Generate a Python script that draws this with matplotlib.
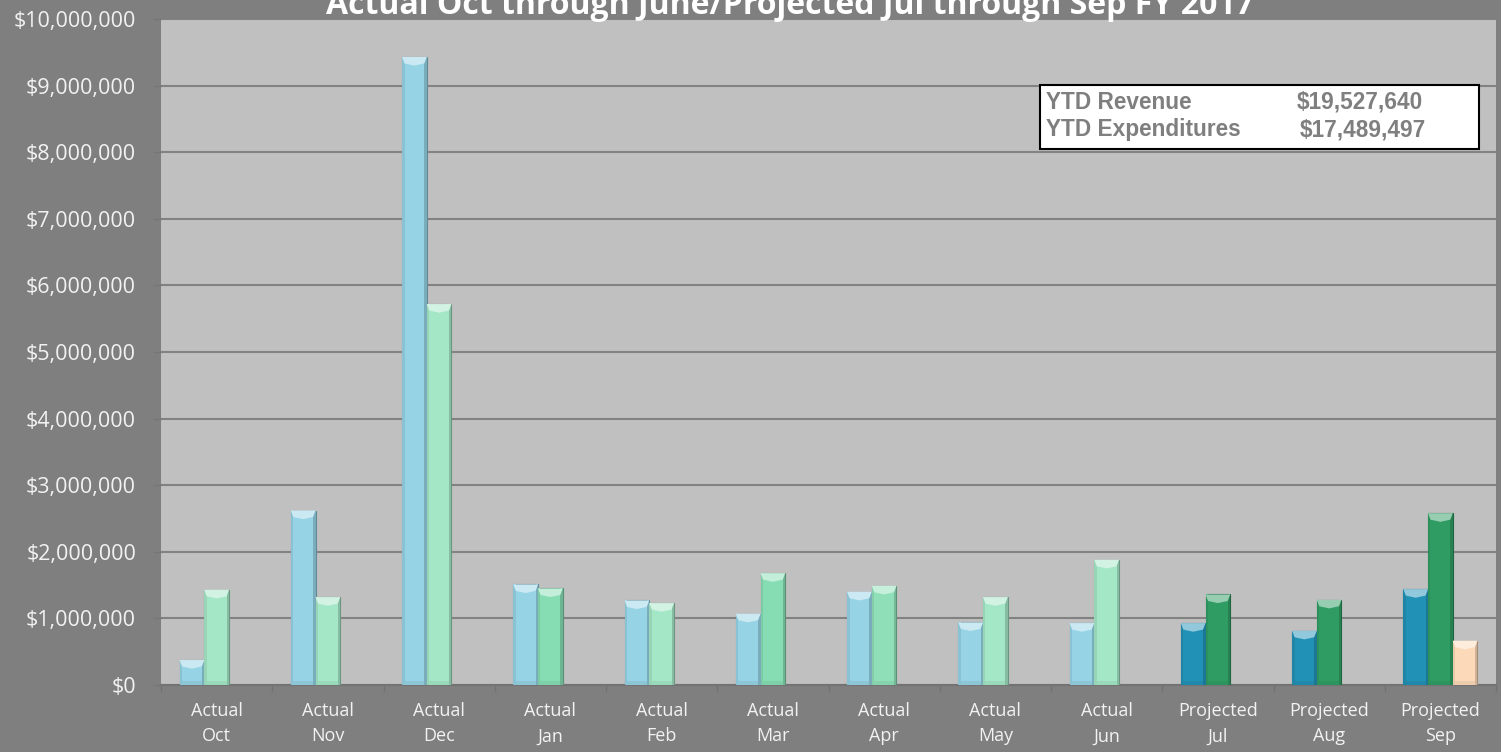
import matplotlib
matplotlib.use("Agg")
import matplotlib.pyplot as plt
import matplotlib.colors as mcolors
from matplotlib.patches import Polygon, Rectangle
from matplotlib.ticker import FuncFormatter, FixedLocator
import numpy as np

# ---- data -------------------------------------------------------------
months = ["Oct", "Nov", "Dec", "Jan", "Feb", "Mar", "Apr", "May", "Jun", "Jul", "Aug", "Sep"]
status = ["Actual"] * 9 + ["Projected"] * 3
revenue = [375000, 2620000, 9430000, 1510000, 1270000, 1070000, 1400000, 940000, 930000,
           930000, 815000, 1440000]
expenditures = [1430000, 1320000, 5720000, 1450000, 1230000, 1680000, 1490000, 1320000, 1880000,
                1360000, 1280000, 2580000]
other = [0, 0, 0, 0, 0, 0, 0, 0, 0, 0, 0, 665000]
ytd_revenue = "$19,527,640"
ytd_expenditures = "$17,489,497"
title = "Actual Oct through June/Projected Jul through Sep FY 2017"

# ---- colours ----------------------------------------------------------
rev_colors = ["#95d3e5"] * 9 + ["#2291b6"] * 3
exp_colors = ["#a4e7c6", "#a4e7c6", "#a4e7c6", "#86ddb3", "#a4e7c6", "#86ddb3",
              "#8fe0b9", "#a4e7c6", "#a4e7c6", "#2f9d63", "#2f9d63", "#2f9d63"]
other_color = "#fcd9b8"
fig_bg = "#7f7f7f"
plot_bg = "#c0c0c0"
text_col = "#f2f2f2"


def mix(c, target, t):
    c = np.array(mcolors.to_rgb(c))
    return tuple(c + (np.array(mcolors.to_rgb(target)) - c) * t)


fig = plt.figure(figsize=(15.01, 7.52), dpi=100, facecolor=fig_bg)
ax = fig.add_axes([161 / 1501, 67 / 752, (1496 - 161) / 1501, (685 - 19) / 752])
ax.set_facecolor(plot_bg)

x = np.arange(len(months))
w = 0.222


def bevel_bars(bars, colors):
    """Give each flat bar a light chevron cap and shaded sides."""
    for bar, col in zip(bars, colors):
        h = bar.get_height()
        if h <= 0:
            continue
        x0 = bar.get_x()
        bw = bar.get_width()
        bar.set_facecolor(col)
        bar.set_edgecolor(mix(col, "black", 0.35))
        bar.set_linewidth(0.8)
        side = bw * 0.1
        d = min(130000, h * 0.45)
        ax.add_patch(Rectangle((x0, 0), side, h, facecolor=mix(col, "black", 0.08),
                               edgecolor="none", zorder=3.1))
        ax.add_patch(Rectangle((x0 + bw - side, 0), side, h, facecolor=mix(col, "black", 0.18),
                               edgecolor="none", zorder=3.1))
        ax.add_patch(Polygon([(x0, h), (x0 + bw, h), (x0 + bw - side, h - d * 0.75),
                              (x0 + bw / 2, h - d), (x0 + side, h - d * 0.75)],
                             closed=True, facecolor=mix(col, "white", 0.5), edgecolor="none",
                             zorder=3.2))
        ax.add_patch(Rectangle((x0 + side, 0), bw - 2 * side, min(60000, h * 0.2),
                               facecolor=mix(col, "black", 0.06), edgecolor="none", zorder=3.1))


b1 = ax.bar(x - w, revenue, w, zorder=3)
b2 = ax.bar(x, expenditures, w, zorder=3)
b3 = ax.bar(x + w, other, w, zorder=3)
bevel_bars(b1, rev_colors)
bevel_bars(b2, exp_colors)
bevel_bars(b3, [other_color] * len(months))

ax.set_xlim(-0.5, len(months) - 0.5)
ax.set_ylim(0, 10_000_000)
ax.set_yticks(np.arange(0, 10_000_001, 1_000_000))
ax.yaxis.set_major_formatter(FuncFormatter(lambda v, p: f"${v:,.0f}"))
ax.grid(axis="y", color="#828282", linewidth=1.5, zorder=1)
ax.set_axisbelow(True)

ax.set_xticks(x)
ax.set_xticklabels([f"{s}\n{m}" for s, m in zip(status, months)],
                   fontfamily="Open Sans", fontsize=13, color=text_col, linespacing=1.55)
ax.xaxis.set_minor_locator(FixedLocator(np.arange(-0.5, len(months), 1.0)))
ax.tick_params(axis="x", which="major", length=0, pad=12)
ax.tick_params(axis="x", which="minor", length=5, color="#737373", width=1)
ax.tick_params(axis="y", length=6, color="#767676", width=1, pad=12,
               labelsize=15.5, labelcolor=text_col)
for lab in ax.get_yticklabels():
    lab.set_fontfamily("Open Sans")

for s in ["top", "right", "left"]:
    ax.spines[s].set_visible(False)
ax.spines["bottom"].set_color("#737373")
ax.spines["bottom"].set_linewidth(1.5)

fig.text(790 / 1501, 1 - 14 / 752, title, ha="center", va="baseline",
         fontfamily="Open Sans", fontweight="bold", fontsize=23, color="white")

# YTD summary box
fig.patches.append(Rectangle((1040 / 1501, 1 - 149 / 752), 439 / 1501, 64 / 752,
                             transform=fig.transFigure, facecolor="white",
                             edgecolor="black", linewidth=1.5, zorder=5))
box_font = dict(fontfamily="Liberation Sans", fontweight="bold", fontsize=16.3,
                color="#7f7f7f", va="baseline", zorder=6)
fig.text(1046 / 1501, 1 - 109 / 752, "YTD Revenue", ha="left", **box_font)
fig.text(1046 / 1501, 1 - 136 / 752, "YTD Expenditures", ha="left", **box_font)
fig.text(1423 / 1501, 1 - 109 / 752, ytd_revenue, ha="right", **box_font)
fig.text(1426 / 1501, 1 - 136 / 752, ytd_expenditures, ha="right", **box_font)

fig.savefig("out.png", dpi=100, facecolor=fig_bg)
